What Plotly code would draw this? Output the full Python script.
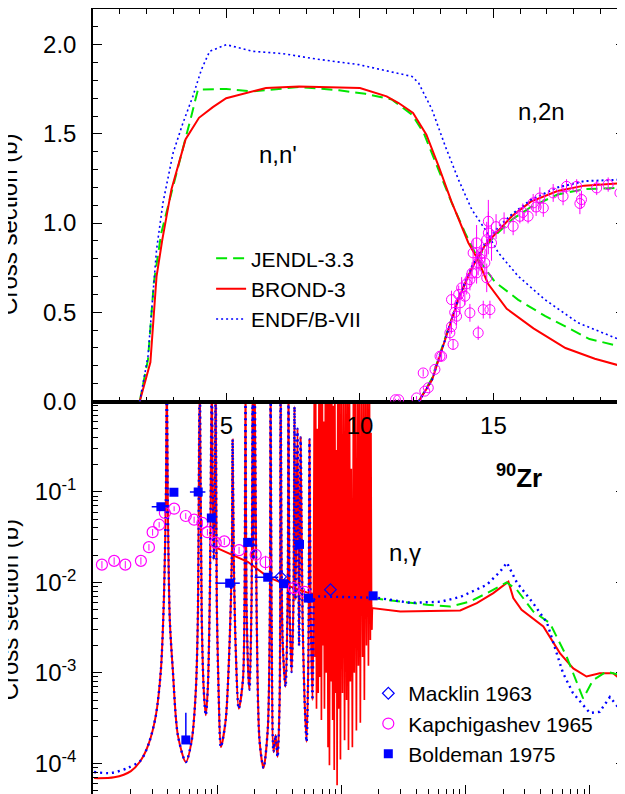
import plotly.graph_objects as go

# ---------------- top panel: (n,n') and (n,2n); E in MeV, sigma in b
jendl_nn_e = [1.75, 2.06, 2.28, 2.56, 3.0, 3.43, 3.68, 3.93, 4.99, 5.97, 7.72, 9.22, 10.2, 11.2,
              11.95, 12.39, 12.95, 13.44, 13.94, 14.44, 15.06, 15.93, 16.93, 18.6, 20.0]
jendl_nn_xs = [0.0, 0.235, 0.667, 0.946, 1.206, 1.449, 1.598, 1.748, 1.752, 1.738, 1.763, 1.744,
               1.725, 1.692, 1.608, 1.505, 1.30, 1.113, 0.945, 0.796, 0.67, 0.57, 0.48, 0.35, 0.30]
brond_nn_e = [1.75, 2.15, 2.38, 2.6, 2.94, 3.47, 3.97, 4.49, 4.99, 5.98, 6.48, 7.72, 8.97, 10.0,
              11.0, 11.45, 11.99, 12.49, 12.95, 13.43, 14.06, 14.4, 14.8, 15.5, 16.5, 17.7, 18.8, 20.0]
brond_nn_xs = [0.0, 0.22, 0.70, 0.91, 1.19, 1.47, 1.59, 1.65, 1.70, 1.74, 1.757, 1.766, 1.763,
               1.757, 1.71, 1.673, 1.617, 1.496, 1.318, 1.12, 0.89, 0.80, 0.66, 0.52, 0.41, 0.30,
               0.24, 0.19]
endf_nn_e = [1.75, 2.06, 2.38, 2.62, 3.0, 3.37, 3.74, 4.06, 4.37, 4.99, 5.98, 7.1, 8.35, 9.96,
             11.95, 12.2, 12.7, 13.2, 13.69, 14.19, 14.69, 15.19, 15.93, 16.93, 18.17, 20.0]
endf_nn_xs = [0.0, 0.254, 0.85, 1.113, 1.393, 1.561, 1.71, 1.86, 1.963, 2.0, 1.963, 1.95, 1.92,
              1.888, 1.822, 1.785, 1.636, 1.43, 1.244, 1.076, 0.964, 0.833, 0.702, 0.571, 0.441,
              0.33]

n2n_e = [12.2, 12.7, 13.2, 13.7, 14.2, 14.7, 15.2, 15.7, 16.4, 17.4, 18.4, 20.0]
jendl_n2n_xs = [0.0, 0.13, 0.36, 0.58, 0.75, 0.87, 0.95, 1.02, 1.09, 1.16, 1.19, 1.20]
brond_n2n_xs = [0.0, 0.12, 0.35, 0.58, 0.75, 0.88, 0.96, 1.04, 1.12, 1.18, 1.21, 1.225]
endf_n2n_xs = [0.0, 0.12, 0.35, 0.585, 0.76, 0.89, 0.98, 1.05, 1.13, 1.20, 1.235, 1.245]

n2n_exp_e = [11.33, 11.45, 12.12, 12.37, 12.43, 12.56, 12.81, 13.0, 13.06, 13.37, 13.43, 13.43,
             13.49, 13.55, 13.62, 13.7, 13.75, 13.81, 13.93, 14.0, 14.12, 14.12, 14.2, 14.24,
             14.37, 14.37, 14.43, 14.43, 14.5, 14.56, 14.62, 14.68, 14.75, 14.75, 14.81, 14.81,
             14.87, 14.93, 15.1, 15.4, 15.74, 15.99, 16.1, 16.3, 16.49, 16.6, 16.74, 16.87,
             17.24, 17.61, 17.74, 18.12, 18.24, 18.3, 18.87, 19.3, 19.74]
n2n_exp_xs = [0.01, 0.01, 0.02, 0.16, 0.058, 0.077, 0.18, 0.254, 0.254, 0.385, 0.42, 0.571,
              0.32, 0.50, 0.478, 0.60, 0.553, 0.637, 0.59, 0.66, 0.497, 0.683, 0.72, 0.833,
              0.721, 0.889, 0.777, 0.385, 0.80, 0.833, 0.515, 0.777, 0.907, 0.693, 0.945, 1.01,
              0.515, 0.889, 0.98, 1.0, 0.982, 1.038, 1.06, 1.038, 1.113, 1.09, 1.141, 1.085,
              1.169, 1.15, 1.206, 1.206, 1.11, 1.132, 1.197, 1.216, 1.169]
n2n_exp_err = [0.005, 0.005, 0.01, 0.02, 0.01, 0.01, 0.02, 0.03, 0.03, 0.04, 0.04, 0.05, 0.03,
               0.05, 0.05, 0.05, 0.06, 0.06, 0.05, 0.06, 0.05, 0.06, 0.06, 0.08, 0.06, 0.10,
               0.07, 0.04, 0.07, 0.08, 0.05, 0.07, 0.10, 0.08, 0.12, 0.12, 0.05, 0.10, 0.07,
               0.06, 0.05, 0.04, 0.05, 0.04, 0.05, 0.05, 0.06, 0.05, 0.05, 0.05, 0.04, 0.04,
               0.06, 0.05, 0.04, 0.04, 0.05]

# ---------------- bottom panel: (n,gamma)
# resolved resonances, E in keV (BROND-3 and ENDF/B-VII coincide here)
low_red_e = [1.02, 1.48, 2.02]
low_red_xs = [6.85e-5, 7.0e-5, 8.2e-5]
low_blue_e = [1.02, 1.40, 1.91]
low_blue_xs = [8.0e-5, 7.8e-5, 8.9e-5]
res_e = [2.43, 2.82, 3.21, 3.52, 3.72, 3.86, 3.93, 4.00, 4.15, 4.39, 4.82, 5.59, 6.24, 6.73,
         6.98, 7.23, 7.51, 7.79, 8.09, 8.39, 8.71, 9.04, 9.21, 9.38, 9.56, 9.73, 9.92, 10.3,
         10.7, 11.7, 12.6, 13.1, 13.3, 13.6, 14.1, 14.9, 16.1, 16.6, 16.9, 17.2, 17.9, 18.2,
         18.9, 19.3, 19.6, 20.0, 20.8, 21.9, 23.6, 25.5, 26.5, 26.9, 27.4, 28.4, 29.5, 30.6,
         31.8, 32.4, 33.6, 35.5, 36.9, 37.5, 38.2, 39.7, 41.1, 41.9, 42.7, 44.3, 45.6, 46.9,
         48.7, 50.5, 52.4, 54.3, 55.3, 56.4, 58.5, 59.6]
res_xs = [1.08e-4, 1.67e-4, 3.4e-4, 1.08e-3, 6.4e-3, 0.082, 2.0, 0.082, 3.9e-3, 1.08e-3,
          2.05e-4, 1.03e-4, 1.8e-4, 6.5e-4, 3.9e-3, 2.0, 3.9e-3, 6.5e-4, 3.4e-4, 6.5e-4,
          6.4e-3, 2.0, 0.082, 0.0178, 0.082, 2.0, 6.4e-3, 5.0e-4, 1.51e-4, 3.0e-4, 2.3e-3,
          0.0178, 0.38, 0.0178, 1.8e-3, 4.0e-4, 8.3e-4, 6.4e-3, 2.0, 6.4e-3, 8.3e-4, 6.5e-4,
          6.4e-3, 2.0, 0.0178, 2.0, 3.9e-3, 1.8e-4, 8.85e-5, 2.33e-4, 3.9e-3, 2.0, 3.9e-3,
          1.33e-4, 2.05e-4, 1.17e-4, 5.0e-4, 2.0, 2.3e-3, 7.0e-4, 6.4e-3, 2.0, 6.4e-3, 1.02e-3,
          6.4e-3, 0.88, 6.4e-3, 0.5, 2.0e-3, 0.4, 3.9e-3, 5.0e-4, 1.72e-4, 1.8e-3, 0.38,
          6.4e-3, 5.0e-4, 6.4e-3]
# BROND-3 only: dense resonances up to ~175 keV
forest_e = [60.5, 61.2, 62.0, 63.0, 64.1, 65.0, 66.0, 67.0, 68.0, 69.0, 70.2, 71.0, 71.8, 73.0,
            74.3, 75.5, 76.5, 78.0, 79.0, 80.1, 81.5, 82.5, 83.5, 85.0, 86.3, 87.5, 88.5, 90.0,
            91.2, 92.3, 93.5, 95.0, 96.5, 98.2, 100, 102, 104, 106, 108, 110, 112, 114, 116,
            118, 120, 122.5, 125, 127, 129, 132, 134.5, 137, 139.5, 142, 145, 148, 150.5, 153,
            156, 159, 162, 165, 168, 171, 173, 175]
forest_xs = [2.0, 1.5e-3, 2.0, 4e-4, 0.5, 6e-4, 2.0, 9e-4, 2.0, 3e-4, 2.0, 2e-3, 0.6, 4e-4,
             2.0, 1e-3, 2.0, 1.5e-4, 2.0, 9.5e-5, 2.0, 8e-4, 2.0, 3e-4, 0.9, 8.4e-5, 2.0, 6e-4,
             0.29, 5.7e-5, 2.0, 4e-4, 2.0, 1.1e-4, 2.0, 6e-4, 2.0, 1.8e-4, 2.0, 5e-4, 2.0,
             1.4e-4, 2.0, 8e-4, 0.18, 1.5e-4, 2.0, 1e-3, 2.0, 2.3e-4, 2.0, 1.2e-3, 2.0, 2.8e-4,
             2.0, 1.5e-3, 1.05, 5e-4, 2.0, 2e-3, 2.0, 1.2e-3, 2.0, 2.3e-3, 0.45, 3e-3]
brond_avg_e = [9.4, 17.6, 25.5, 41.1, 53.3, 100, 177]
brond_avg_xs = [0.0248, 0.0169, 0.0115, 8.7e-3, 7.7e-3, 6.5e-3, 5.4e-3]
endf_flat_e = [64.0, 100, 177]
endf_flat_xs = [7.0e-3, 6.9e-3, 6.7e-3]

# continuum, E in MeV
brond_ng_e = [0.177, 0.298, 0.904, 1.23, 1.67, 2.21, 2.42, 2.82, 3.30, 4.22, 5.74, 7.35, 9.4,
              12.0, 15.4, 17.9, 19.1, 20.0]
brond_ng_xs = [5.2e-3, 4.76e-3, 4.89e-3, 5.9e-3, 7.6e-3, 0.0102, 6.7e-3, 4.98e-3, 4.19e-3,
               3.25e-3, 1.65e-3, 1.12e-3, 9.1e-4, 9.9e-4, 9.9e-4, 8.3e-4, 5.45e-4, 4.5e-4]
jendl_ng_e = [0.177, 0.488, 0.751, 1.09, 1.48, 2.14, 2.58, 3.51, 4.77, 6.5, 8.83, 10.6, 13.6,
              20.0]
jendl_ng_xs = [6.7e-3, 5.65e-3, 5.4e-3, 6.15e-3, 7.6e-3, 9.97e-3, 8.3e-3, 4.76e-3, 3.54e-3,
               1.51e-3, 5.2e-4, 8.3e-4, 1.03e-3, 9.0e-4]
endf_ng_e = [0.195, 0.358, 0.624, 0.904, 1.48, 1.89, 2.15, 2.59, 3.48, 4.52, 6.07, 7.3, 10.0,
             12.0, 14.5, 18.4, 20.0]
endf_ng_xs = [6.75e-3, 5.94e-3, 6.1e-3, 6.9e-3, 9.4e-3, 0.0131, 0.0165, 9.9e-3, 5.94e-3,
              3.57e-3, 1.0e-3, 6.0e-4, 3.6e-4, 3.7e-4, 5.4e-4, 3.6e-4, 3.4e-4]

# experiments, E in keV
macklin_e = [32.4, 81.6]
macklin_xs = [0.0115, 8.3e-3]
kapch_e = [1.18, 1.48, 1.82, 2.43, 2.82, 3.02, 3.41, 3.79, 4.50, 5.58, 6.52, 7.6, 8.34, 9.73,
           11.4, 15.0, 20.4, 24.5, 41.3, 50.5]
kapch_xs = [0.0157, 0.0173, 0.0157, 0.0173, 0.0245, 0.0359, 0.0434, 0.0585, 0.0653, 0.0542,
            0.0493, 0.0454, 0.0359, 0.0275, 0.0284, 0.0227, 0.0202, 0.0167, 8.65e-3, 7.87e-3]
kapch_err = [0.0015, 0.0016, 0.0015, 0.0016, 0.002, 0.003, 0.003, 0.004, 0.004, 0.004, 0.004,
             0.004, 0.003, 0.0025, 0.0025, 0.002, 0.002, 0.003, 0.0008, 0.0007]
bold_e = [3.52, 4.48, 7.03, 8.97, 12.6, 17.6, 25.5, 34.2, 46.0, 54.3, 180, 5.59]
bold_xs = [0.0687, 0.099, 0.10, 0.0515, 0.0098, 0.0277, 0.0114, 0.00966, 0.0263, 0.0067,
           0.0071, 1.81e-4]
bold_de = [0.55, 0.3, 1.0, 0.4, 2.6, 1.2, 5.5, 1.5, 2.0, 2.0, 8.0, 0.2]
bold_dxs_up = [0.006, 0.008, 0.008, 0.005, 0.001, 0.003, 0.001, 0.001, 0.003, 0.0007, 0.0007,
               1.8e-4]
bold_dxs_dn = [0.006, 0.008, 0.008, 0.005, 0.001, 0.003, 0.001, 0.001, 0.003, 0.0007, 0.0007,
               0.0]

GREEN = "#00e600"
RED = "#ff0000"
BLUE = "#0000ff"
MAGENTA = "#ff00ff"
FONT = "Arial, Liberation Sans, sans-serif"
DASH = "11px,6px"
DOT = "2px,3px"


def kev(values):
    return [v * 1e-3 for v in values]


fig = go.Figure()

# bottom panel (x, y) is added first so that the top panel's tick labels are drawn over it
bottom = dict(xaxis="x", yaxis="y", showlegend=False)
fig.add_trace(go.Scatter(x=kev(low_red_e + res_e), y=low_red_xs + res_xs, mode="lines",
                         line=dict(color=RED, width=2, shape="spline", smoothing=0.8), **bottom))
fig.add_trace(go.Scatter(x=kev(brond_avg_e), y=brond_avg_xs, mode="lines",
                         line=dict(color=RED, width=2), **bottom))
fig.add_trace(go.Scatter(x=kev(res_e[-1:] + forest_e), y=res_xs[-1:] + forest_xs, mode="lines",
                         line=dict(color=RED, width=1.7), **bottom))
fig.add_trace(go.Scatter(x=kev(forest_e[-1:]) + brond_ng_e, y=forest_xs[-1:] + brond_ng_xs,
                         mode="lines", line=dict(color=RED, width=2), **bottom))
fig.add_trace(go.Scatter(x=jendl_ng_e, y=jendl_ng_xs, mode="lines",
                         line=dict(color=GREEN, width=2, dash=DASH), **bottom))
fig.add_trace(go.Scatter(x=kev(low_blue_e + res_e), y=low_blue_xs + res_xs, mode="lines",
                         line=dict(color=BLUE, width=2.4, dash="2px,4px", shape="spline",
                                   smoothing=0.8), **bottom))
fig.add_trace(go.Scatter(x=kev(res_e[-1:] + endf_flat_e) + endf_ng_e,
                         y=res_xs[-1:] + endf_flat_xs + endf_ng_xs, mode="lines",
                         line=dict(color=BLUE, width=2.4, dash="2px,4px"), **bottom))

exp = dict(xaxis="x", yaxis="y", legend="legend2")
fig.add_trace(go.Scatter(x=kev(macklin_e), y=macklin_xs, mode="markers", name="Macklin 1963",
                         marker=dict(symbol="diamond-open", size=9, color=BLUE,
                                     line=dict(width=1.2)), **exp))
fig.add_trace(go.Scatter(x=kev(kapch_e), y=kapch_xs, mode="markers", name="Kapchigashev 1965",
                         marker=dict(symbol="circle-open", size=11, color=MAGENTA,
                                     line=dict(width=1.2)),
                         error_y=dict(type="data", array=kapch_err, color=MAGENTA, thickness=1,
                                      width=0), **exp))
fig.add_trace(go.Scatter(x=kev(bold_e), y=bold_xs, mode="markers", name="Boldeman 1975",
                         marker=dict(symbol="square", size=9, color=BLUE),
                         error_x=dict(type="data", array=kev(bold_de), color=BLUE, thickness=1.5,
                                      width=0),
                         error_y=dict(type="data", array=bold_dxs_up, arrayminus=bold_dxs_dn,
                                      color=BLUE, thickness=1.5, width=0), **exp))

# top panel (x2, y2)
for e, xs, name, color, dash, width, show in [
    (jendl_nn_e, jendl_nn_xs, "JENDL-3.3", GREEN, DASH, 2, True),
    (brond_nn_e, brond_nn_xs, "BROND-3", RED, "solid", 2, True),
    (endf_nn_e, endf_nn_xs, "ENDF/B-VII", BLUE, DOT, 1.6, True),
    (n2n_e, jendl_n2n_xs, "JENDL-3.3", GREEN, DASH, 2, False),
    (n2n_e, brond_n2n_xs, "BROND-3", RED, "solid", 2, False),
    (n2n_e, endf_n2n_xs, "ENDF/B-VII", BLUE, DOT, 2, False),
]:
    fig.add_trace(go.Scatter(x=e, y=xs, mode="lines", name=name, showlegend=show,
                             legend="legend", xaxis="x2", yaxis="y2",
                             line=dict(color=color, dash=dash, width=width)))

fig.add_trace(go.Scatter(x=n2n_exp_e, y=n2n_exp_xs, mode="markers", showlegend=False,
                         xaxis="x2", yaxis="y2",
                         marker=dict(symbol="circle-open", size=10, color=MAGENTA,
                                     line=dict(width=1)),
                         error_y=dict(type="data", array=n2n_exp_err, color=MAGENTA,
                                      thickness=1, width=0)))

axis_common = dict(showline=True, linecolor="black", linewidth=1.5, ticks="inside", ticklen=9,
                   tickwidth=1.2, tickcolor="black", showgrid=False, zeroline=False,
                   automargin=False, tickfont=dict(family=FONT, size=24, color="black"))
log_minor = [m * 10.0 ** k for k in range(-5, 2) for m in range(2, 10)]
lin_minor = dict(ticks="inside", ticklen=5, tickcolor="black", tick0=0)
SPLIT = 0.5

text_font = dict(family=FONT, size=24, color="black")
annotations = [
    dict(x=6.93, y=1.383, xref="x2", yref="y2", text="n,n'", showarrow=False, font=text_font),
    dict(x=16.82, y=1.624, xref="x2", yref="y2", text="n,2n", showarrow=False, font=text_font),
    dict(x=-0.486, y=-1.672, xref="x", yref="y", text="n,γ", showarrow=False, font=text_font),
    dict(x=0.43, y=-0.83, xref="x", yref="y", text="<b><sup>90</sup>Zr</b>", showarrow=False,
         font=dict(family=FONT, size=26, color="black")),
    dict(x=-0.187, y=0.725, xref="paper", yref="paper", xanchor="left", yanchor="middle",
         text="Cross section (b)", textangle=-90, showarrow=False, font=text_font),
    dict(x=-0.187, y=0.234, xref="paper", yref="paper", xanchor="left", yanchor="middle",
         text="Cross section (b)", textangle=-90, showarrow=False, font=text_font),
]

fig.update_layout(
    # the page adds an 8 px body margin, so the figure is 8 px smaller than the window
    width=617,
    height=786,
    margin=dict(l=85, r=0, t=1, b=0),
    paper_bgcolor="white",
    plot_bgcolor="white",
    font=dict(family=FONT, color="black"),
    annotations=annotations,
    xaxis=dict(type="log", range=[-3, 1.283], domain=[0, 1], anchor="y",
               tickvals=[1e-3, 1e-2, 1e-1, 1, 10], showticklabels=False, mirror=True,
               minor=dict(tickvals=log_minor, ticks="inside", ticklen=5, tickcolor="black"),
               **axis_common),
    yaxis=dict(type="log", range=[-4.34, 0], domain=[0, SPLIT], anchor="x",
               tickvals=[1e-4, 1e-3, 1e-2, 1e-1],
               ticktext=["10<sup>-4</sup>", "10<sup>-3</sup>", "10<sup>-2</sup>",
                         "10<sup>-1</sup>"],
               mirror="allticks", ticklabelstandoff=10,
               minor=dict(tickvals=log_minor, ticks="inside", ticklen=5, tickcolor="black"),
               **axis_common),
    xaxis2=dict(range=[0, 19.93], domain=[0, 1], anchor="y2", tickvals=[5, 10, 15],
                mirror="allticks", ticklabelstandoff=2, minor=dict(dtick=1, **lin_minor),
                **axis_common),
    yaxis2=dict(range=[0, 2.2], domain=[SPLIT, 1], anchor="x2",
                tickvals=[0, 0.5, 1.0, 1.5, 2.0], tickformat=".1f", mirror="allticks",
                ticklabelstandoff=10, minor=dict(dtick=0.1, **lin_minor), **axis_common),
    legend=dict(x=0.222, y=0.708, xanchor="left", yanchor="top", bgcolor="rgba(0,0,0,0)",
                font=dict(family=FONT, size=21), tracegroupgap=0),
    legend2=dict(x=0.5175, y=0.154, xanchor="left", yanchor="top", bgcolor="rgba(0,0,0,0)",
                 font=dict(family=FONT, size=21), tracegroupgap=0),
)

fig.write_html("out.html")
